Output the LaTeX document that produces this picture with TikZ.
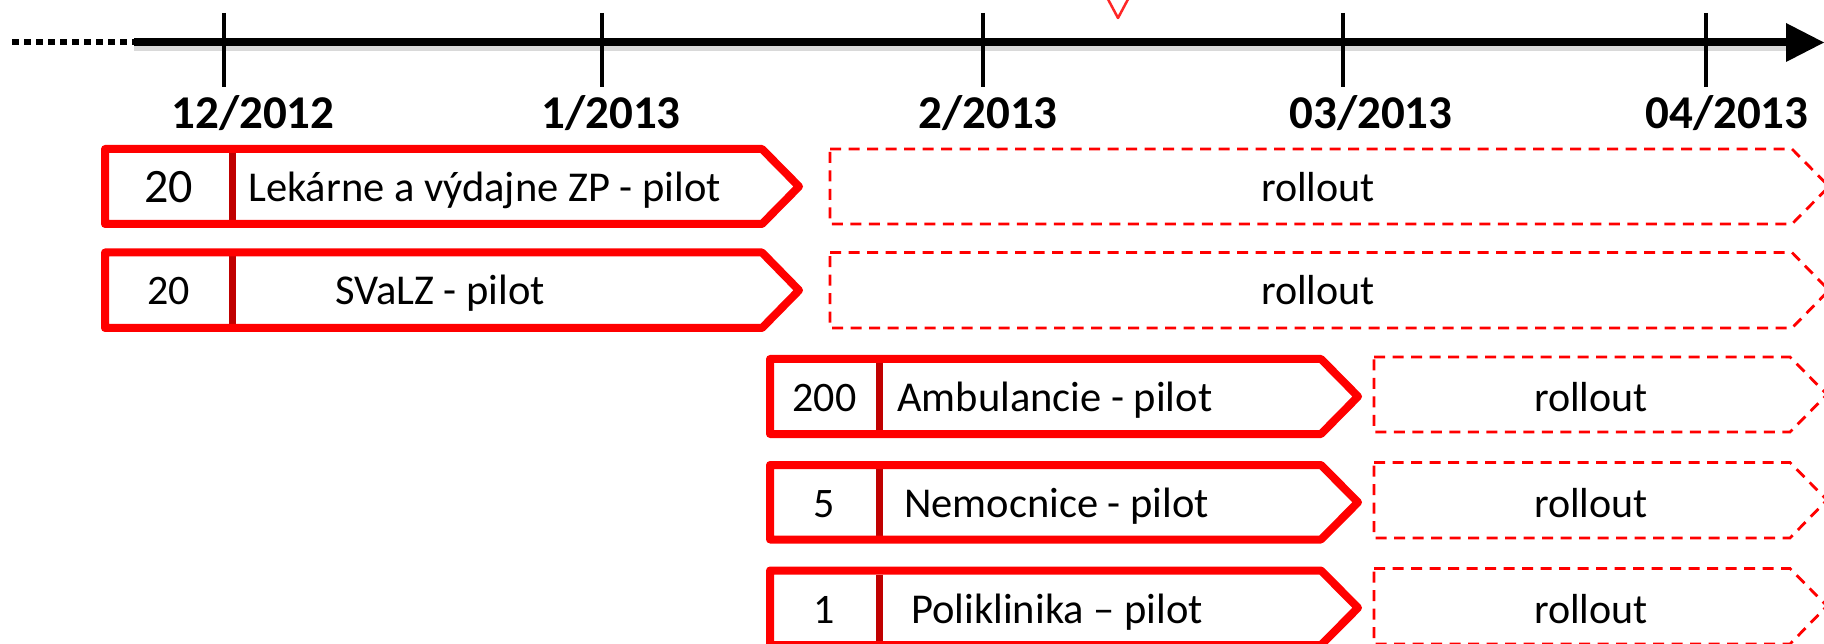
\documentclass[tikz,border=0pt]{standalone}
\usepackage{fontspec}
\setmainfont{Carlito}
\definecolor{pred}{HTML}{FF0000}
\definecolor{dred}{HTML}{C00000}
\tikzset{
  pilotbox/.style={draw=pred, line width=8pt, line join=round},
  divline/.style={draw=dred, line width=7pt},
  rolloutbox/.style={draw=pred, line width=2.8pt, dash pattern=on 11pt off 7.5pt},
  numtxt/.style={font=\fontsize{42}{50}\selectfont, anchor=base, inner sep=0pt},
  bignumtxt/.style={font=\fontsize{48}{56}\selectfont, anchor=base, inner sep=0pt},
  labtxt/.style={font=\fontsize{42.5}{50}\selectfont, anchor=base west, inner sep=0pt},
  rolltxt/.style={font=\fontsize{42}{50}\selectfont, anchor=base, inner sep=0pt},
  datetxt/.style={font=\fontsize{47}{55}\selectfont\bfseries, anchor=base, inner sep=0pt},
  tickmark/.style={draw=black, line width=4pt},
  axisline/.style={draw=black, line width=8pt},
}
\begin{document}
\begin{tikzpicture}[x=1pt,y=-1pt]
\useasboundingbox (0,0) rectangle (1824,644);
\clip (0,0) rectangle (1824,644);
\fill[white] (0,0) rectangle (1824,644);

% red marker at top
\draw[pred!85, line width=2.5pt, line join=round] (1102,-12) -- (1118,18) -- (1134,-12);

% axis
\coordinate (dotstart) at (12,42.5);
\coordinate (axstart) at (134,42.5);
\coordinate (axend) at (1790,42.5);
\draw[black!15, line width=5pt] (134,49) -- (1790,49);
\draw[black, line width=6pt, dash pattern=on 7pt off 5pt] (dotstart) -- (axstart);
\draw[axisline] (axstart) -- (axend);
\fill[black] (1786,23) -- (1824,42.5) -- (1786,62) -- cycle;

% ticks and dates
\foreach \tx/\lx/\name/\lab in {224/253/t1/12\slash 2012, 602/611/t2/1\slash 2013, 983/988/t3/2\slash 2013, 1343/1371/t4/03\slash 2013, 1706/1727/t5/04\slash 2013}{
  \draw[tickmark] (\tx,13) -- (\tx,87);
  \node[datetxt] (\name) at (\lx,129) {\lab};
}

% ---------- Row 1 ----------
\draw[divline] (232.5,153) -- (232.5,220);
\draw[pilotbox] (105,149) -- (762,149) -- (799,186.5) -- (762,224) -- (105,224) -- cycle;
\node[bignumtxt] (n1) at (168.5,203) {20};
\node[labtxt] (l1) at (248,202) {Lekárne a výdajne ZP - pilot};
\draw[rolloutbox] (830,149) -- (1792,149) -- (1829,186.5) -- (1792,224) -- (830,224) -- cycle;
\node[rolltxt] (r1) at (1318,202) {rollout};

% ---------- Row 2 ----------
\draw[divline] (232.5,256.5) -- (232.5,324);
\draw[pilotbox] (105,252.5) -- (762,252.5) -- (799,290.3) -- (762,328) -- (105,328) -- cycle;
\node[numtxt] (n2) at (168.5,305) {20};
\node[labtxt] (l2) at (335,305) {SVaLZ - pilot};
\draw[rolloutbox] (830,252.5) -- (1792,252.5) -- (1829,290.3) -- (1792,328) -- (830,328) -- cycle;
\node[rolltxt] (r2) at (1318,305) {rollout};

% ---------- Row 3 ----------
\draw[divline] (879,363) -- (879,430);
\draw[pilotbox] (770,359) -- (1321,359) -- (1358,396.5) -- (1321,434) -- (770,434) -- cycle;
\node[numtxt] (n3) at (824.5,411.5) {200};
\node[labtxt] (l3) at (897,411.5) {Ambulancie - pilot};
\draw[rolloutbox] (1374,357) -- (1790,357) -- (1827,394.5) -- (1790,432) -- (1374,432) -- cycle;
\node[rolltxt] (r3) at (1591,411.5) {rollout};

% ---------- Row 4 ----------
\draw[divline] (879,469) -- (879,535.5);
\draw[pilotbox] (770,465) -- (1321,465) -- (1358,502.3) -- (1321,539.5) -- (770,539.5) -- cycle;
\node[numtxt] (n4) at (824.5,517) {5};
\node[labtxt] (l4) at (904,517) {Nemocnice - pilot};
\draw[rolloutbox] (1374,462.5) -- (1790,462.5) -- (1827,500) -- (1790,538) -- (1374,538) -- cycle;
\node[rolltxt] (r4) at (1591,517) {rollout};

% ---------- Row 5 ----------
\draw[divline] (879,574.5) -- (879,641);
\draw[pilotbox] (770,570.5) -- (1321,570.5) -- (1358,607.8) -- (1321,645) -- (770,645) -- cycle;
\node[numtxt] (n5) at (824.5,623) {1};
\node[labtxt] (l5) at (911,623) {Poliklinika – pilot};
\draw[rolloutbox] (1374,568.5) -- (1790,568.5) -- (1827,606) -- (1790,644) -- (1374,644) -- cycle;
\node[rolltxt] (r5) at (1591,623) {rollout};
\end{tikzpicture}
\end{document}
